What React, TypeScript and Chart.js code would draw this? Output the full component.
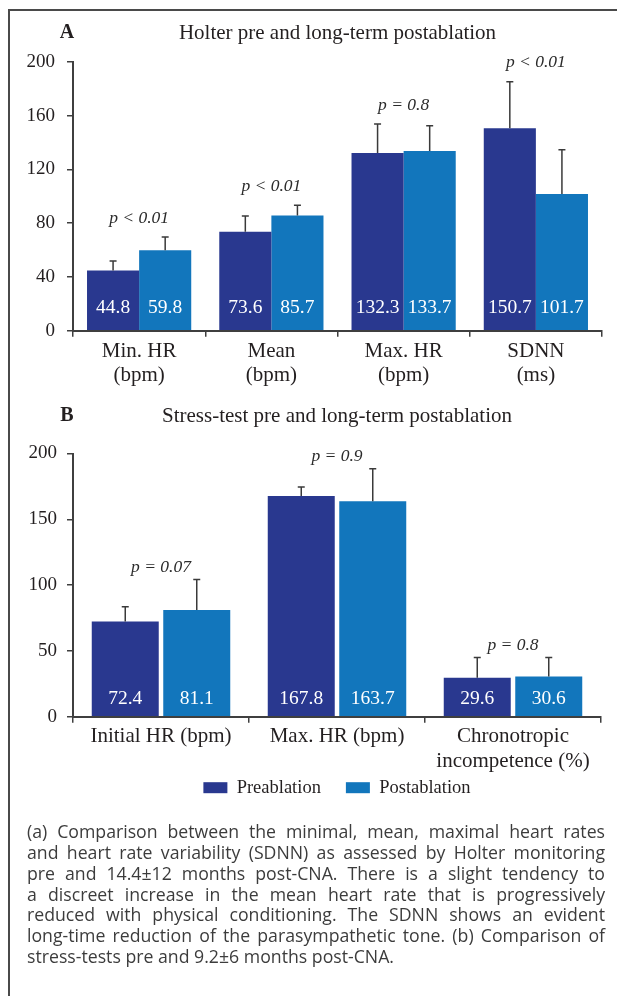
import React, { useEffect, useRef } from 'react';
import { Chart, registerables } from 'chart.js';

Chart.register(...registerables);

// ---------- Data ----------
const holterCategories = [['Min. HR', '(bpm)'], ['Mean', '(bpm)'], ['Max. HR', '(bpm)'], ['SDNN', '(ms)']];
const holterPre = [44.8, 73.6, 132.3, 150.7];
const holterPost = [59.8, 85.7, 133.7, 101.7];
const holterPreSd = [7.1, 11.8, 21.6, 34.6];
const holterPostSd = [9.9, 7.6, 18.9, 33.0];
const holterP = ['p < 0.01', 'p < 0.01', 'p = 0.8', 'p < 0.01'];
const holterTicks = [0, 40, 80, 120, 160, 200];

const stressCategories = ['Initial HR (bpm)', 'Max. HR (bpm)', ['Chronotropic', 'incompetence (%)']];
const stressPre = [72.4, 167.8, 29.6];
const stressPost = [81.1, 163.7, 30.6];
const stressPreSd = [11.1, 6.7, 15.4];
const stressPostSd = [23.1, 24.8, 14.4];
const stressP = ['p = 0.07', 'p = 0.9', 'p = 0.8'];
const stressTicks = [0, 50, 100, 150, 200];

const seriesNames = ['Preablation', 'Postablation'];

const captionLines = [
  '(a) Comparison between the minimal, mean, maximal heart rates',
  'and heart rate variability (SDNN) as assessed by Holter monitoring',
  'pre and 14.4\u00b112 months post-CNA. There is a slight tendency to',
  'a discreet increase in the mean heart rate that is progressively',
  'reduced with physical conditioning. The SDNN shows an evident',
  'long-time reduction of the parasympathetic tone. (b) Comparison of',
  'stress-tests pre and 9.2\u00b16 months post-CNA.',
];

// ---------- Styles ----------
const PRE_COLOR = '#29388f';
const POST_COLOR = '#1276bc';
const TEXT = '#231f20';
const AXIS = '#3f3f3f';
const SERIF = '"Liberation Serif", "Times New Roman", serif';

const annotPlugin = {
  id: 'annot',
  afterDatasetsDraw(chart: any, _args: any, opts: any) {
    const { ctx } = chart;
    const y = chart.scales.y;
    const base = y.getPixelForValue(0);
    const metas = [chart.getDatasetMeta(0), chart.getDatasetMeta(1)];
    ctx.save();
    chart.data.datasets.forEach((ds: any, di: number) => {
      metas[di].data.forEach((bar: any, i: number) => {
        const top = y.getPixelForValue(ds.data[i] + ds.sd[i]);
        ctx.strokeStyle = '#3a3a3a';
        ctx.lineWidth = 1.5;
        ctx.beginPath();
        ctx.moveTo(bar.x, bar.y);
        ctx.lineTo(bar.x, top);
        ctx.moveTo(bar.x - 3.5, top);
        ctx.lineTo(bar.x + 3.5, top);
        ctx.stroke();
        ctx.fillStyle = '#ffffff';
        ctx.font = `19.5px ${SERIF}`;
        ctx.textAlign = 'center';
        ctx.textBaseline = 'middle';
        ctx.fillText(ds.data[i].toFixed(1), bar.x, base - opts.valueOffset);
      });
    });
    const d0 = chart.data.datasets[0];
    const d1 = chart.data.datasets[1];
    opts.pLabels.forEach((t: string, i: number) => {
      const x = (metas[0].data[i].x + metas[1].data[i].x) / 2;
      const t0 = y.getPixelForValue(d0.data[i] + d0.sd[i]);
      const t1 = y.getPixelForValue(d1.data[i] + d1.sd[i]);
      ctx.fillStyle = '#2b2b2b';
      ctx.font = `italic 17.5px ${SERIF}`;
      ctx.textAlign = 'center';
      ctx.textBaseline = 'middle';
      ctx.fillText(t, x, Math.min(t0, t1) - opts.pOffset);
    });
    ctx.restore();
  },
  afterDraw(chart: any, _args: any, opts: any) {
    const { ctx, chartArea } = chart;
    const cx = (chartArea.left + chartArea.right) / 2;
    ctx.save();
    ctx.fillStyle = TEXT;
    ctx.textBaseline = 'middle';
    ctx.textAlign = 'center';
    ctx.font = `bold 20px ${SERIF}`;
    ctx.fillText(opts.letter, 67, opts.titleY);
    ctx.font = `21px ${SERIF}`;
    ctx.fillText(opts.title, cx, opts.titleY);

    if (opts.legendY) {
      const fs = 18.5;
      const boxW = 24;
      const boxH = 11;
      const gap = 25;
      ctx.font = `${fs}px ${SERIF}`;
      const items = chart.data.datasets.map((ds: any) => ({
        text: ds.label,
        color: ds.backgroundColor,
        w: boxW + fs / 2 + ctx.measureText(ds.label).width,
      }));
      const total = items.reduce((s: number, it: any) => s + it.w, 0) + gap * (items.length - 1);
      let x = cx - total / 2;
      ctx.textAlign = 'left';
      items.forEach((it: any) => {
        ctx.fillStyle = it.color;
        ctx.fillRect(x, opts.legendY - boxH / 2, boxW, boxH);
        ctx.fillStyle = TEXT;
        ctx.fillText(it.text, x + boxW + fs / 2, opts.legendY);
        x += it.w + gap;
      });
    }
    ctx.restore();
  },
};

function makeConfig(p: {
  labels: any[]; pre: number[]; post: number[]; preSd: number[]; postSd: number[];
  ticks: number[]; max: number; pLabels: string[]; pOffset: number; valueOffset: number;
  letter: string; title: string; titleY: number; padding: any; yWidth: number; xHeight: number;
  catPct: number; barPct: number; tickPad: number; xPad: number; xLineHeight: number; legendY: number;
}): any {
  return {
    type: 'bar',
    data: {
      labels: p.labels,
      datasets: [
        { label: seriesNames[0], data: p.pre, sd: p.preSd, backgroundColor: PRE_COLOR, borderWidth: 0, categoryPercentage: p.catPct, barPercentage: p.barPct },
        { label: seriesNames[1], data: p.post, sd: p.postSd, backgroundColor: POST_COLOR, borderWidth: 0, categoryPercentage: p.catPct, barPercentage: p.barPct },
      ],
    },
    options: {
      responsive: false,
      animation: false,
      devicePixelRatio: 1,
      layout: { padding: p.padding },
      events: [],
      plugins: {
        legend: { display: false },
        tooltip: { enabled: false },
        annot: {
          pLabels: p.pLabels, pOffset: p.pOffset, valueOffset: p.valueOffset,
          letter: p.letter, title: p.title, titleY: p.titleY, legendY: p.legendY,
        },
      },
      scales: {
        x: {
          z: 1,
          grid: { offset: true, drawOnChartArea: false, drawTicks: true, tickLength: 6, color: AXIS, lineWidth: 1.5 },
          border: { color: AXIS, width: 2 },
          ticks: {
            color: TEXT, font: { family: SERIF, size: 21, lineHeight: p.xLineHeight },
            padding: p.xPad, maxRotation: 0, minRotation: 0, autoSkip: false,
          },
          afterFit: (s: any) => { s.height = p.xHeight; },
        },
        y: {
          min: 0,
          max: p.max,
          afterBuildTicks: (s: any) => { s.ticks = p.ticks.map((v) => ({ value: v })); },
          grid: { drawOnChartArea: false, drawTicks: true, tickLength: 6, color: AXIS, lineWidth: 1.5 },
          border: { color: AXIS, width: 2 },
          ticks: { color: TEXT, font: { family: SERIF, size: 19 }, padding: p.tickPad },
          afterFit: (s: any) => { s.width = p.yWidth; },
        },
      },
    },
    plugins: [annotPlugin],
  };
}

export default function App() {
  const refA = useRef<HTMLCanvasElement>(null);
  const refB = useRef<HTMLCanvasElement>(null);

  useEffect(() => {
    const a = new Chart(refA.current as HTMLCanvasElement, makeConfig({
      labels: holterCategories, pre: holterPre, post: holterPost, preSd: holterPreSd, postSd: holterPostSd,
      ticks: holterTicks, max: 200, pLabels: holterP, pOffset: 19, valueOffset: 22.7,
      letter: 'A', title: 'Holter pre and long-term postablation', titleY: 33,
      padding: { top: 62, left: 0, right: 15, bottom: 400 - 330.7 - 65 }, yWidth: 73, xHeight: 65,
      catPct: 0.788, barPct: 1.0, tickPad: 12, xPad: 3, xLineHeight: 1.15, legendY: 0,
    }));
    const b = new Chart(refB.current as HTMLCanvasElement, makeConfig({
      labels: stressCategories, pre: stressPre, post: stressPost, preSd: stressPreSd, postSd: stressPostSd,
      ticks: stressTicks, max: 200, pLabels: stressP, pOffset: 12, valueOffset: 17.4,
      letter: 'B', title: 'Stress-test pre and long-term postablation', titleY: 16,
      padding: { top: 53.5, left: 0, right: 16, bottom: 440 - 316.7 - 65 }, yWidth: 73, xHeight: 65,
      catPct: 0.8125, barPct: 0.937, tickPad: 10, xPad: 1, xLineHeight: 1.2, legendY: 387.7,
    }));
    return () => { a.destroy(); b.destroy(); };
  }, []);

  return (
    <div style={{ position: 'absolute', left: 0, top: 0, width: 617, height: 996, overflow: 'hidden', background: '#fff' }}>
      <div style={{ position: 'absolute', left: 8, top: 9, width: 700, height: 1100, border: '2px solid #4a4a4a', boxSizing: 'border-box' }} />
      <canvas ref={refA} width={617} height={400} style={{ position: 'absolute', left: 0, top: 0, width: 617, height: 400, display: 'block' }} />
      <canvas ref={refB} width={617} height={440} style={{ position: 'absolute', left: 0, top: 400, width: 617, height: 440, display: 'block' }} />
      <div style={{ position: 'absolute', left: 27, top: 821.3, width: 578, fontFamily: '"Open Sans", sans-serif', fontSize: 17.7, lineHeight: '20.8px', color: '#3c3c3c' }}>
        {captionLines.map((line, i) => (
          <div
            key={i}
            style={{
              whiteSpace: 'nowrap',
              textAlign: i === captionLines.length - 1 ? 'left' : 'justify',
              textAlignLast: i === captionLines.length - 1 ? 'left' : 'justify',
            } as any}
          >
            {line}
          </div>
        ))}
      </div>
    </div>
  );
}
